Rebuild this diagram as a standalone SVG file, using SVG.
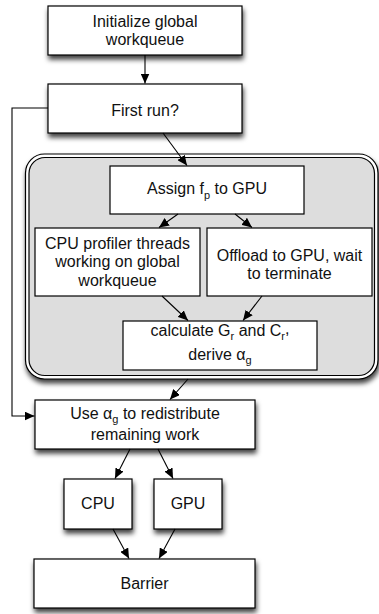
<svg xmlns="http://www.w3.org/2000/svg" width="379" height="614" viewBox="0 0 379 614">
  <style>
    .box { fill: #ffffff; stroke: #000000; stroke-width: 1.2; }
    .lbl { font-family: "Liberation Sans", Arial, Helvetica, sans-serif; font-size: 16px; fill: #111111; text-anchor: middle; }
    .sub { font-size: 11px; }
    .edge { fill: none; stroke: #000000; stroke-width: 1.1; marker-end: url(#arrow); }
  </style>
  <defs>
    <marker id="arrow" markerUnits="userSpaceOnUse" markerWidth="11" markerHeight="9" refX="10" refY="4.5" orient="auto">
      <path d="M0,0 L10,4.5 L0,9 z" fill="#000000"/>
    </marker>
    <filter id="shadow" x="-10%" y="-20%" width="130%" height="170%">
      <feDropShadow dx="1" dy="4" stdDeviation="2.5" flood-color="#000000" flood-opacity="0.75"/>
    </filter>
  </defs>

  <rect width="379" height="614" fill="#ffffff"/>

  <!-- profiling phase container: double rounded outline, grey fill -->
  <g id="profiling-phase">
    <rect x="25.5" y="154" width="352.5" height="225" rx="19" fill="#ffffff" stroke="#000000" stroke-width="1.2" filter="url(#shadow)"/>
    <rect x="29" y="157.5" width="345.5" height="218" rx="16" fill="#dddddd" stroke="#000000" stroke-width="1.2"/>
  </g>

  <g id="init">
    <rect class="box" x="48" y="6" width="194" height="49" filter="url(#shadow)"/>
    <text class="lbl" x="145" y="27">Initialize global</text>
    <text class="lbl" x="145" y="45">workqueue</text>
  </g>

  <g id="first-run">
    <rect class="box" x="48" y="84" width="194" height="49" filter="url(#shadow)"/>
    <text class="lbl" x="145" y="116">First run?</text>
  </g>

  <g id="assign">
    <rect class="box" x="110" y="166" width="194" height="48"/>
    <text class="lbl" x="207" y="194">Assign f<tspan class="sub" dy="5">p</tspan><tspan dy="-5"> to GPU</tspan></text>
  </g>

  <g id="cpu-profiler">
    <rect class="box" x="35" y="228" width="165" height="68"/>
    <text class="lbl" x="117.5" y="249">CPU profiler threads</text>
    <text class="lbl" x="117.5" y="267">working on global</text>
    <text class="lbl" x="117.5" y="286">workqueue</text>
  </g>

  <g id="offload">
    <rect class="box" x="207" y="228" width="165" height="68"/>
    <text class="lbl" x="289.5" y="261">Offload to GPU, wait</text>
    <text class="lbl" x="289.5" y="279">to terminate</text>
  </g>

  <g id="calculate">
    <rect class="box" x="123" y="321" width="194" height="49"/>
    <text class="lbl" x="220" y="336">calculate G<tspan class="sub" dy="4">r</tspan><tspan dy="-4"> and C</tspan><tspan class="sub" dy="4">r</tspan><tspan dy="-6">,</tspan></text>
    <text class="lbl" x="220" y="360">derive α<tspan class="sub" dy="4">g</tspan></text>
  </g>

  <g id="redistribute">
    <rect class="box" x="35" y="400" width="220" height="49" filter="url(#shadow)"/>
    <text class="lbl" x="145" y="419">Use α<tspan class="sub" dy="4">g</tspan><tspan dy="-4"> to redistribute</tspan></text>
    <text class="lbl" x="145" y="440">remaining work</text>
  </g>

  <g id="cpu">
    <rect class="box" x="64" y="479" width="68" height="50" filter="url(#shadow)"/>
    <text class="lbl" x="98" y="509">CPU</text>
  </g>

  <g id="gpu">
    <rect class="box" x="154" y="479" width="68" height="50" filter="url(#shadow)"/>
    <text class="lbl" x="188" y="509">GPU</text>
  </g>

  <g id="barrier">
    <rect class="box" x="34" y="559" width="221" height="49" filter="url(#shadow)"/>
    <text class="lbl" x="144.5" y="589">Barrier</text>
  </g>

  <g id="connectors">
    <path class="edge" d="M145,55 L145,83.5"/>
    <path class="edge" d="M163,133 L187,165.5"/>
    <path class="edge" d="M178,214 L159,227.5"/>
    <path class="edge" d="M235,214 L252,227.5"/>
    <path class="edge" d="M162,296 L188,320.5"/>
    <path class="edge" d="M262,296 L243,320.5"/>
    <path class="edge" d="M188,379 L170,399.5"/>
    <path class="edge" d="M130,449 L115,478.5"/>
    <path class="edge" d="M158,449 L173,478.5"/>
    <path class="edge" d="M113,529 L129,558.5"/>
    <path class="edge" d="M175,529 L159,558.5"/>
    <path class="edge" d="M48,108 L12,108 L12,416 L34.5,416"/>
  </g>
</svg>
